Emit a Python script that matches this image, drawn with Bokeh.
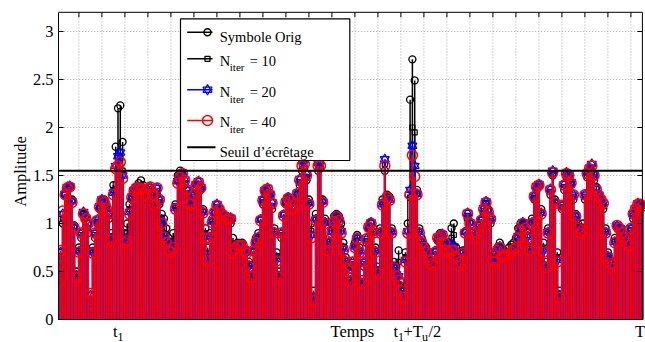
from bokeh.plotting import figure
from bokeh.models import Range1d, FixedTicker, Label
from bokeh.embed import file_html
from bokeh.resources import INLINE

# ---------------- data ----------------
orig = [0.45,0.6,1.0,1.3,1.36,1.38,1.25,0.98,0.5,0.75,0.85,1.1,1.08,0.9,0.1,0.75,0.85,1.0,1.15,1.22,
        1.25,1.2,1.05,0.9,1.4,1.8,2.2,2.23,1.85,0.9,1.0,1.2,1.25,1.3,1.38,1.42,1.45,1.4,1.25,1.3,
        1.35,1.25,1.22,1.3,1.2,1.1,1.05,0.95,0.85,0.8,0.9,1.2,1.5,1.55,1.5,1.4,1.3,1.25,1.15,1.25,
        1.35,1.4,1.35,1.15,0.95,0.75,0.9,1.05,1.1,1.15,1.1,1.12,1.05,1.0,1.02,1.0,0.85,0.78,0.8,0.75,
        0.8,0.7,0.72,0.6,0.5,0.7,0.85,0.9,1.05,1.2,1.3,1.33,1.28,1.15,0.95,0.7,0.5,0.85,1.1,1.2,
        1.28,1.2,1.1,1.25,1.3,1.4,1.55,1.58,1.45,1.25,1.0,0.3,1.1,1.55,1.58,1.25,1.05,0.8,0.85,1.0,
        1.08,1.1,1.08,1.0,0.8,0.65,0.58,0.45,0.55,0.8,0.88,0.75,0.42,0.55,0.8,0.95,1.02,0.95,0.75,0.55,
        0.95,1.25,1.55,1.3,1.28,0.95,0.6,0.55,0.72,0.4,0.3,0.7,1.0,2.29,2.71,2.49,1.35,0.95,0.85,0.78,
        0.75,0.68,0.6,0.6,0.72,0.82,0.9,0.85,0.82,0.78,0.8,0.95,1.0,0.75,0.6,0.65,0.72,0.92,1.05,1.02,
        0.92,0.85,0.88,1.0,1.05,1.1,1.2,1.15,1.0,0.7,0.65,0.75,0.8,0.7,0.72,0.7,0.75,0.78,0.8,0.85,
        0.95,1.0,0.98,1.0,0.92,0.8,1.05,1.25,1.35,1.38,1.15,0.8,0.6,0.95,1.3,1.5,1.25,0.7,0.3,1.15,
        1.35,1.48,1.45,1.4,1.25,1.1,1.0,0.95,1.0,1.25,1.48,1.55,1.55,1.45,1.38,1.3,1.2,1.15,0.95,0.7,
        0.62,0.6,0.85,0.95,0.92,0.95,0.9,0.85,0.8,0.92,1.05,1.12,1.18,1.15,1.2]

n10 = [0.42,0.66,1.05,1.3,1.36,1.38,1.24,0.96,0.47,0.72,0.88,1.1,1.06,0.95,0.2,0.72,0.88,1.02,1.16,1.23,
       1.23,1.17,1.08,0.86,1.35,1.41,1.65,1.68,1.55,0.85,0.9,1.15,1.26,1.32,1.37,1.39,1.4,1.38,1.28,1.33,
       1.36,1.28,1.2,1.34,1.22,1.05,0.95,0.88,0.78,0.75,0.82,1.18,1.45,1.5,1.5,1.42,1.32,1.22,1.18,1.28,
       1.38,1.41,1.36,1.13,0.9,0.68,0.87,1.03,1.11,1.17,1.12,1.1,1.06,1.02,1.04,1.03,0.77,0.76,0.78,0.76,
       0.78,0.71,0.7,0.58,0.47,0.71,0.82,0.87,1.04,1.22,1.32,1.35,1.29,1.18,0.92,0.66,0.47,0.88,1.09,1.21,
       1.27,1.22,1.12,1.22,1.3,1.43,1.6,1.62,1.48,1.22,0.92,0.25,1.06,1.6,1.62,1.23,1.02,0.76,0.82,0.95,
       1.05,1.09,1.05,0.95,0.76,0.62,0.55,0.42,0.58,0.78,0.86,0.72,0.4,0.58,0.82,0.95,1.01,0.92,0.72,0.52,
       0.92,1.22,1.62,1.28,1.26,0.92,0.57,0.5,0.6,0.35,0.27,0.65,1.3,1.27,2.0,1.95,1.32,0.92,0.82,0.76,
       0.72,0.65,0.59,0.58,0.71,0.84,0.88,0.87,0.81,0.75,0.75,0.85,0.88,0.7,0.58,0.62,0.7,0.91,1.08,1.01,
       0.91,0.84,0.89,0.99,1.04,1.13,1.21,1.13,1.03,0.65,0.62,0.73,0.77,0.67,0.69,0.68,0.71,0.74,0.76,0.8,
       0.9,0.96,0.99,0.97,0.88,0.76,1.02,1.27,1.37,1.39,1.12,0.75,0.57,0.92,1.33,1.52,1.23,0.65,0.27,1.17,
       1.38,1.5,1.48,1.41,1.28,1.08,0.97,0.92,0.96,1.28,1.5,1.56,1.58,1.48,1.36,1.29,1.23,1.18,0.92,0.67,
       0.6,0.56,0.82,0.96,0.93,0.92,0.87,0.82,0.78,0.93,1.08,1.14,1.19,1.18,1.19]

n20 = [0.4,0.7,1.1,1.31,1.38,1.39,1.23,0.96,0.46,0.71,0.9,1.12,1.06,1.0,0.25,0.7,0.9,1.04,1.18,1.25,
       1.23,1.16,1.1,0.84,1.32,1.6,1.7,1.74,1.5,0.82,0.85,1.12,1.28,1.35,1.38,1.38,1.37,1.37,1.3,1.35,
       1.38,1.3,1.19,1.37,1.25,1.02,0.88,0.82,0.74,0.72,0.78,1.16,1.44,1.5,1.53,1.46,1.35,1.21,1.2,1.3,
       1.41,1.44,1.38,1.12,0.87,0.64,0.86,1.02,1.12,1.2,1.15,1.11,1.08,1.04,1.06,1.06,0.72,0.75,0.78,0.78,
       0.78,0.73,0.7,0.56,0.45,0.72,0.81,0.86,1.04,1.25,1.35,1.37,1.31,1.22,0.91,0.63,0.45,0.9,1.09,1.23,
       1.27,1.25,1.16,1.21,1.32,1.46,1.65,1.66,1.52,1.21,0.88,0.22,1.04,1.63,1.65,1.23,1.01,0.74,0.81,0.92,
       1.03,1.08,1.04,0.92,0.74,0.61,0.54,0.41,0.6,0.76,0.85,0.71,0.38,0.6,0.84,0.97,1.01,0.91,0.71,0.5,
       0.91,1.2,1.67,1.28,1.25,0.91,0.55,0.47,0.45,0.32,0.25,0.62,0.92,1.35,1.81,1.6,1.31,0.91,0.81,0.76,
       0.71,0.63,0.59,0.57,0.71,0.86,0.87,0.89,0.81,0.73,0.72,0.78,0.76,0.67,0.57,0.61,0.7,0.91,1.11,1.01,
       0.91,0.84,0.9,0.99,1.04,1.16,1.23,1.13,1.05,0.63,0.61,0.73,0.76,0.66,0.67,0.68,0.69,0.71,0.74,0.76,
       0.87,0.94,1.01,0.96,0.86,0.74,1.01,1.29,1.39,1.41,1.11,0.72,0.55,0.91,1.36,1.55,1.22,0.62,0.25,1.19,
       1.41,1.53,1.51,1.43,1.3,1.08,0.96,0.91,0.94,1.3,1.53,1.58,1.62,1.51,1.36,1.3,1.25,1.21,0.91,0.66,
       0.59,0.54,0.81,0.98,0.95,0.91,0.86,0.81,0.77,0.95,1.1,1.16,1.21,1.2,1.19]

n40 = [0.38,0.72,1.13,1.3,1.37,1.38,1.22,0.95,0.44,0.7,0.9,1.1,1.05,1.0,0.27,0.69,0.9,1.03,1.17,1.24,
       1.22,1.15,1.1,0.82,1.3,1.57,1.6,1.64,1.47,0.8,0.82,1.1,1.27,1.34,1.37,1.37,1.36,1.36,1.3,1.36,
       1.38,1.3,1.19,1.37,1.25,1.0,0.86,0.8,0.72,0.7,0.75,1.15,1.42,1.48,1.52,1.45,1.35,1.2,1.2,1.3,
       1.4,1.43,1.37,1.11,0.85,0.61,0.85,1.01,1.12,1.19,1.15,1.1,1.08,1.04,1.05,1.05,0.69,0.74,0.77,0.77,
       0.77,0.72,0.69,0.55,0.44,0.72,0.8,0.85,1.03,1.24,1.34,1.36,1.3,1.21,0.9,0.61,0.44,0.9,1.08,1.22,
       1.26,1.24,1.15,1.2,1.31,1.45,1.6,1.62,1.5,1.2,0.85,0.2,1.03,1.6,1.6,1.22,1.0,0.72,0.8,0.9,
       1.02,1.07,1.03,0.9,0.72,0.6,0.53,0.4,0.6,0.75,0.84,0.7,0.37,0.6,0.84,0.96,1.0,0.9,0.7,0.48,
       0.9,1.19,1.6,1.27,1.24,0.9,0.54,0.45,0.41,0.3,0.23,0.6,0.9,1.3,1.71,1.49,1.3,0.9,0.8,0.75,
       0.7,0.62,0.58,0.56,0.7,0.85,0.86,0.88,0.8,0.72,0.7,0.72,0.72,0.65,0.56,0.6,0.69,0.9,1.1,1.0,
       0.9,0.84,0.9,0.98,1.03,1.15,1.22,1.12,1.05,0.61,0.6,0.72,0.75,0.65,0.66,0.67,0.68,0.7,0.73,0.75,
       0.85,0.93,1.0,0.95,0.85,0.72,1.0,1.28,1.38,1.4,1.1,0.7,0.54,0.9,1.35,1.53,1.21,0.6,0.23,1.19,
       1.4,1.52,1.5,1.42,1.3,1.07,0.95,0.9,0.93,1.3,1.52,1.57,1.6,1.5,1.35,1.29,1.25,1.21,0.9,0.65,
       0.58,0.53,0.8,0.98,0.95,0.9,0.85,0.8,0.77,0.95,1.1,1.15,1.2,1.2,1.18]

seuil = 1.55
samples = list(range(1, len(n40) + 1))
x_grid = list(range(10, 251, 10))
y_ticks = [0, 0.5, 1, 1.5, 2, 2.5, 3]
y_tick_labels = ["0", "0.5", "1", "1.5", "2", "2.5", "3"]
legend_labels = ["Symbole Orig", "N", "N", "N", "Seuil d\u2019\u00e9cr\u00eatage"]
legend_values = ["= 10", "= 20", "= 40"]
Y_TOP = 3.2
X_LAST = 255

FONT = "Liberation Serif"

# page-pixel -> data helpers (layout only)
def px2x(px):
    return (px - 57.7) / 2.3 + 1

def py2y(py):
    return (319 - py) / 96.0

p = figure(width=645, height=342,
           x_range=Range1d(px2x(58), px2x(645)), y_range=Range1d(py2y(342), py2y(0)),
           output_backend="svg", toolbar_location=None,
           min_border_left=58, min_border_right=0, min_border_top=0, min_border_bottom=0)
p.background_fill_color = "white"
p.border_fill_color = "white"
p.outline_line_color = None
p.xaxis.visible = False

# left axis (real axis, bounded to the data box)
p.yaxis.bounds = (0, Y_TOP)
p.yaxis.ticker = FixedTicker(ticks=y_ticks)
p.yaxis.major_label_overrides = {t: l for t, l in zip(y_ticks, y_tick_labels)}
p.yaxis.major_label_text_font = FONT
p.yaxis.major_label_text_font_size = "16.5px"
p.yaxis.major_label_text_color = "black"
p.yaxis.major_label_standoff = 5
p.yaxis.major_tick_in = 5
p.yaxis.major_tick_out = 0
p.yaxis.minor_tick_line_color = None
p.yaxis.axis_line_color = "black"
p.yaxis.axis_line_width = 1
p.yaxis.axis_label = "Amplitude"
p.yaxis.axis_label_text_font = FONT
p.yaxis.axis_label_text_font_size = "16.5px"
p.yaxis.axis_label_text_font_style = "normal"
p.yaxis.axis_label_standoff = 0
p.yaxis.axis_label_text_color = "black"

# grid (dotted), limited to the data box
p.xgrid.visible = False
p.ygrid.visible = False
x_left = px2x(57.7)
p.segment(x0=x_grid, y0=[0] * len(x_grid), x1=x_grid, y1=[Y_TOP] * len(x_grid),
          line_color="#a8a8a8", line_dash="1 2", line_width=1)
p.segment(x0=[x_left] * 6, y0=y_ticks[1:], x1=[X_LAST] * 6, y1=y_ticks[1:],
          line_color="#a8a8a8", line_dash="1 2", line_width=1)

zeros = [0] * len(samples)

# original symbol
p.segment(x0=samples, y0=zeros, x1=samples, y1=orig, line_color="black", line_width=1.5)
p.scatter(samples, orig, marker="circle", size=7, fill_color=None, line_color="black", line_width=1.3)
# N_iter = 10
p.segment(x0=samples, y0=zeros, x1=samples, y1=n10, line_color="black", line_width=1.3)
p.scatter(samples, n10, marker="square", size=5, fill_color=None, line_color="black", line_width=1.2)
# N_iter = 20
p.segment(x0=samples, y0=zeros, x1=samples, y1=n20, line_color="#0000ff", line_width=2.3)
p.scatter(samples, n20, marker="triangle", size=9, fill_color=None, line_color="#0000ff", line_width=1.2)
p.scatter(samples, n20, marker="inverted_triangle", size=9, fill_color=None, line_color="#0000ff", line_width=1.2)
# N_iter = 40
p.segment(x0=samples, y0=zeros, x1=samples, y1=n40, line_color="#ff0000", line_width=1.9)
p.scatter(samples, n40, marker="circle", size=10, fill_color=None, line_color="#ff0000", line_width=1.5)

# threshold
p.line([x_left, X_LAST], [seuil, seuil], line_color="black", line_width=2)

# box edges (top / right / bottom) and inward ticks
p.line([x_left, X_LAST, X_LAST, x_left], [Y_TOP, Y_TOP, 0, 0], line_color="black", line_width=1)
tick_dy = 5 / 96.0
tick_dx = 5 / 2.3
p.segment(x0=x_grid, y0=[Y_TOP] * len(x_grid), x1=x_grid, y1=[Y_TOP - tick_dy] * len(x_grid),
          line_color="black", line_width=1)
p.segment(x0=[X_LAST] * len(y_ticks), y0=y_ticks, x1=[X_LAST - tick_dx] * len(y_ticks), y1=y_ticks,
          line_color="black", line_width=1)

# ---------------- legend (drawn by hand for subscripts) ----------------
p.quad(left=[px2x(180)], right=[px2x(349.3)], bottom=[py2y(160)], top=[py2y(18.3)],
       fill_color="white", line_color="black", line_width=1.2)
row_py = [31.7, 58.3, 89.3, 120.0, 146.7]
lx0, lx1, mx = px2x(186.7), px2x(212), px2x(207)
styles = [("black", "circle"), ("black", "square"), ("#0000ff", "star"), ("#ff0000", "circle"), ("black", None)]
for i, ((col, mk), ry) in enumerate(zip(styles, row_py)):
    y = py2y(ry)
    p.line([lx0, lx1 if mk else px2x(215)], [y, y], line_color=col, line_width=2 if mk is None else 1.5)
    if mk == "circle" and i == 0:
        p.scatter([mx], [y], marker="circle", size=7, fill_color=None, line_color=col, line_width=1.5)
    elif mk == "square":
        p.scatter([mx], [y], marker="square", size=5, fill_color=None, line_color=col, line_width=1.3)
    elif mk == "star":
        p.scatter([mx], [y], marker="triangle", size=9, fill_color=None, line_color=col, line_width=1.2)
        p.scatter([mx], [y], marker="inverted_triangle", size=9, fill_color=None, line_color=col, line_width=1.2)
    elif mk == "circle":
        p.scatter([mx], [y], marker="circle", size=10, fill_color=None, line_color=col, line_width=1.5)

tx = px2x(219.3)
def lab(x, py, text, size="14.5px", xoff=0):
    p.add_layout(Label(x=x, y=py2y(py), text=text, text_font=FONT, text_font_size=size,
                       text_color="black", text_baseline="alphabetic", text_align="left",
                       x_offset=xoff))

lab(tx, 36, legend_labels[0])
for base, val in zip([60, 91.7, 121.7], legend_values):
    lab(tx, base, "N")
    lab(tx, base + 6.7, "iter", size="11px", xoff=10)
    lab(tx, base, val, xoff=30)
lab(tx, 151.7, legend_labels[4])

# ---------------- bottom tick labels ----------------
BASE, SUB = 331, 336
x_t1 = px2x(112.5)
lab(x_t1, BASE, "t", size="16.5px")
lab(x_t1, SUB, "1", size="12px", xoff=4.5)
lab(px2x(330), BASE, "Temps", size="16.5px")
x_mid = px2x(393)
lab(x_mid, BASE, "t", size="16.5px")
lab(x_mid, SUB, "1", size="12px", xoff=4.5)
lab(x_mid, BASE, "+T", size="16.5px", xoff=10)
lab(x_mid, SUB, "u", size="12px", xoff=28.5)
lab(x_mid, BASE, "/2", size="16.5px", xoff=35)
x_tu = px2x(634.5)
lab(x_tu, BASE, "T", size="16.5px")

open("out.html", "w").write(file_html(p, INLINE))
